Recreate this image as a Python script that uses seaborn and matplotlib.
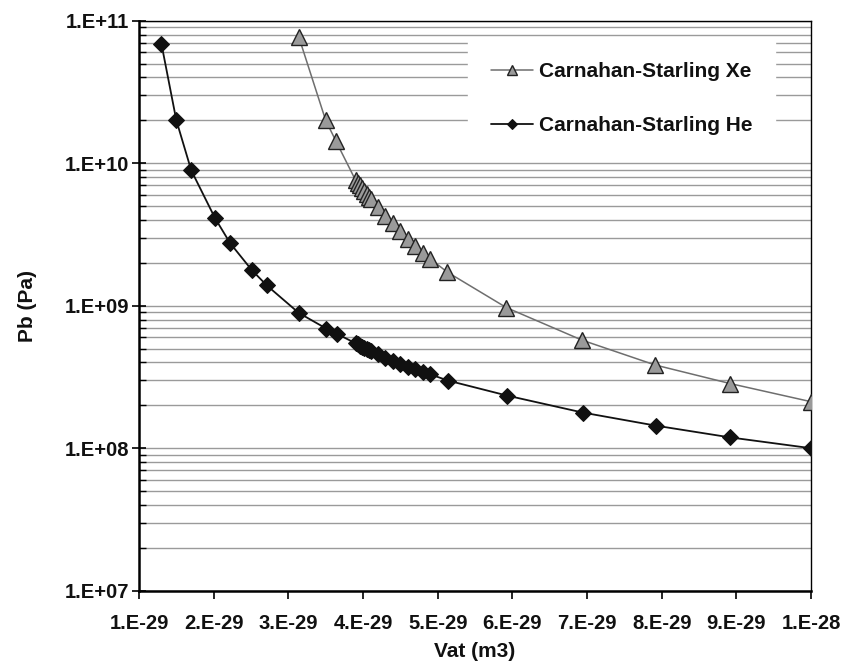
import matplotlib
matplotlib.use("Agg")
import matplotlib.pyplot as plt
import matplotlib.ticker as mticker
import seaborn as sns
import pandas as pd

# ---- data (Vat in m3, Pb in Pa) ----
he_vat = [1.30e-29, 1.50e-29, 1.70e-29, 2.02e-29, 2.22e-29, 2.51e-29, 2.71e-29,
          3.14e-29, 3.51e-29, 3.65e-29,
          3.90e-29, 3.93e-29, 3.96e-29, 3.99e-29, 4.02e-29, 4.05e-29, 4.08e-29, 4.11e-29,
          4.20e-29, 4.30e-29, 4.40e-29, 4.50e-29, 4.60e-29, 4.70e-29, 4.80e-29, 4.90e-29,
          5.14e-29, 5.93e-29, 6.94e-29, 7.92e-29, 8.92e-29, 1.00e-28]
he_pb = [6.9e10, 2.0e10, 8.9e9, 4.1e9, 2.75e9, 1.78e9, 1.39e9,
         8.9e8, 6.9e8, 6.35e8,
         5.45e8, 5.35e8, 5.25e8, 5.15e8, 5.05e8, 4.95e8, 4.87e8, 4.78e8,
         4.58e8, 4.31e8, 4.11e8, 3.92e8, 3.73e8, 3.58e8, 3.43e8, 3.30e8,
         2.98e8, 2.34e8, 1.78e8, 1.44e8, 1.19e8, 1.0e8]

xe_vat = [3.14e-29, 3.50e-29, 3.64e-29,
          3.90e-29, 3.93e-29, 3.96e-29, 3.99e-29, 4.02e-29, 4.05e-29, 4.08e-29, 4.11e-29,
          4.20e-29, 4.30e-29, 4.40e-29, 4.50e-29, 4.60e-29, 4.70e-29, 4.80e-29, 4.90e-29,
          5.13e-29, 5.92e-29, 6.93e-29, 7.91e-29, 8.92e-29, 1.00e-28]
xe_pb = [7.7e10, 2.0e10, 1.42e10,
         7.6e9, 7.3e9, 7.0e9, 6.7e9, 6.4e9, 6.1e9, 5.8e9, 5.6e9,
         4.95e9, 4.26e9, 3.78e9, 3.34e9, 2.94e9, 2.62e9, 2.33e9, 2.13e9,
         1.72e9, 9.7e8, 5.74e8, 3.84e8, 2.84e8, 2.12e8]

series_names = ["Carnahan-Starling Xe", "Carnahan-Starling He"]

x_ticks = [1e-29, 2e-29, 3e-29, 4e-29, 5e-29, 6e-29, 7e-29, 8e-29, 9e-29, 1e-28]
x_tick_labels = ["1.E-29", "2.E-29", "3.E-29", "4.E-29", "5.E-29",
                 "6.E-29", "7.E-29", "8.E-29", "9.E-29", "1.E-28"]
y_ticks = [1e7, 1e8, 1e9, 1e10, 1e11]
y_tick_labels = ["1.E+07", "1.E+08", "1.E+09", "1.E+10", "1.E+11"]

x_label = "Vat (m3)"
y_label = "Pb (Pa)"

# ---- plotting ----
sns.set_theme(style="white")
plt.rcParams["font.family"] = ["Liberation Sans", "DejaVu Sans"]
plt.rcParams["font.weight"] = "bold"

df_xe = pd.DataFrame({"Vat": xe_vat, "Pb": xe_pb})
df_he = pd.DataFrame({"Vat": he_vat, "Pb": he_pb})

fig = plt.figure(figsize=(8.48, 6.64), dpi=100)
ax = fig.add_axes([139 / 848, 1 - 590.7 / 664, (811 - 139) / 848, (590.7 - 20.7) / 664])

ax.set_yscale("log")
ax.set_xlim(1e-29, 1e-28)
ax.set_ylim(1e7, 1e11)

ax.yaxis.set_major_locator(mticker.FixedLocator(y_ticks))
ax.yaxis.set_major_formatter(mticker.FixedFormatter(y_tick_labels))
ax.yaxis.set_minor_locator(mticker.LogLocator(base=10, subs=range(2, 10)))
ax.yaxis.set_minor_formatter(mticker.NullFormatter())
ax.grid(True, axis="y", which="both", color="#9a9a9a", linewidth=1.0, zorder=0)
ax.grid(False, axis="x")
ax.set_axisbelow(True)

sns.lineplot(data=df_xe, x="Vat", y="Pb", ax=ax, sort=False, color="#6e6e6e",
             linewidth=1.1, marker="^", markersize=11, markerfacecolor="#9a9a9a",
             markeredgecolor="#222222", markeredgewidth=1.0, label=series_names[0],
             zorder=3)
sns.lineplot(data=df_he, x="Vat", y="Pb", ax=ax, sort=False, color="#111111",
             linewidth=1.3, marker="D", markersize=8.5, markerfacecolor="#111111",
             markeredgecolor="#111111", label=series_names[1], zorder=4)

ax.set_xticks(x_ticks)
ax.set_xticklabels(x_tick_labels)

for lab in ax.get_xticklabels():
    lab.set_fontweight("bold")
    lab.set_fontsize(14.5)
    lab.set_color("#111111")
for lab in ax.get_yticklabels():
    lab.set_fontweight("bold")
    lab.set_fontsize(14.5)
    lab.set_color("#111111")

ax.tick_params(axis="x", which="major", direction="out", length=6, width=1.2,
               color="black", pad=11, bottom=True)
ax.tick_params(axis="y", which="major", direction="inout", length=10, width=1.2,
               color="black", pad=2, left=True)
ax.tick_params(axis="y", which="minor", direction="in", length=5, width=1.0,
               color="black", left=True)

for side in ["left", "bottom"]:
    ax.spines[side].set_color("black")
    ax.spines[side].set_linewidth(1.8)
for side in ["top", "right"]:
    ax.spines[side].set_color("black")
    ax.spines[side].set_linewidth(1.0)
    ax.spines[side].set_visible(True)

ax.set_xlabel(x_label, fontsize=15, fontweight="bold", labelpad=6, color="#111111")
ax.set_ylabel(y_label, fontsize=15, fontweight="bold", labelpad=20, color="#111111")

leg = ax.legend(loc="upper left", bbox_to_anchor=((468 - 139) / 672, 1 - (39 - 20.7) / 570),
                borderaxespad=0, frameon=True, fancybox=False, framealpha=1,
                facecolor="white", edgecolor="white", prop={"weight": "bold", "size": 15},
                handlelength=2.0, handletextpad=0.3, labelspacing=1.7, borderpad=1.1,
                markerscale=0.6)
leg.set_zorder(5)
for t in leg.get_texts():
    t.set_color("#111111")

fig.savefig("out.png", dpi=100, facecolor="white")
